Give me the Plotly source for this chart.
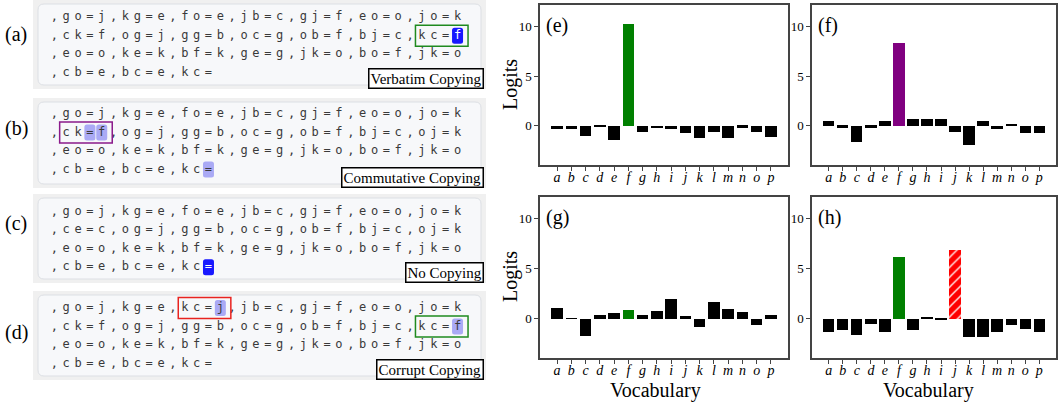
import plotly.graph_objects as go

W, H = 1058, 402

# ---------------- data ----------------
vocab = list("abcdefghijklmnop")
logits_e = [-0.35, -0.35, -1.0, -0.15, -1.4, 10.27, -0.63, -0.23, -0.33, -0.73, -1.2, -0.63, -1.23, -0.17, -0.63, -1.13]
logits_f = [0.5, -0.17, -1.67, -0.17, 0.5, 8.37, 0.67, 0.67, 0.67, -0.63, -1.93, 0.47, -0.33, 0.1, -0.73, -0.73]
logits_g = [1.1, 0.05, -1.7, 0.4, 0.6, 0.9, 0.4, 0.8, 2.0, 0.3, -0.87, 1.7, 1.0, 0.7, -0.6, 0.4]
logits_h = [-1.3, -1.1, -1.6, -0.5, -1.37, 6.2, -1.1, 0.07, -0.17, 6.9, -1.8, -1.8, -1.37, -0.6, -1.0, -1.3]

seq_a = [",go=j,kg=e,fo=e,jb=c,gj=f,eo=o,jo=k",
         ",ck=f,og=j,gg=b,oc=g,ob=f,bj=c,kc=f",
         ",eo=o,ke=k,bf=k,ge=g,jk=o,bo=f,jk=o",
         ",cb=e,bc=e,kc="]
seq_b = [",go=j,kg=e,fo=e,jb=c,gj=f,eo=o,jo=k",
         ",ck=f,og=j,gg=b,oc=g,ob=f,bj=c,oj=k",
         ",eo=o,ke=k,bf=k,ge=g,jk=o,bo=f,jk=o",
         ",cb=e,bc=e,kc="]
seq_c = [",go=j,kg=e,fo=e,jb=c,gj=f,eo=o,jo=k",
         ",ce=c,og=j,gg=b,oc=g,ob=f,bj=c,oj=k",
         ",eo=o,ke=k,bf=k,ge=g,jk=o,bo=f,jk=o",
         ",cb=e,bc=e,kc="]
seq_d = [",go=j,kg=e,kc=j,jb=c,gj=f,eo=o,jo=k",
         ",ck=f,og=j,gg=b,oc=g,ob=f,bj=c,kc=f",
         ",eo=o,ke=k,bf=k,ge=g,jk=o,bo=f,jk=o",
         ",cb=e,bc=e,kc="]
sequences = [seq_a, seq_b, seq_c, seq_d]
captions = ["Verbatim Copying", "Commutative Copying", "No Copying", "Corrupt Copying"]
seq_tags = ["(a)", "(b)", "(c)", "(d)"]
chart_tags = ["(e)", "(f)", "(g)", "(h)"]

# frames: (panel, row, first idx, last idx, colour)
frames = [(0, 1, 31, 34, "#1f8a1f"),
          (1, 1, 1, 4, "#8b1a8b"),
          (3, 0, 11, 14, "#e8231f"),
          (3, 1, 31, 34, "#1f8a1f")]
# highlighted tokens: (panel, row, idx, strong?)
marks = [(0, 1, 34, True),
         (1, 1, 3, False), (1, 1, 4, False), (1, 3, 13, False),
         (2, 3, 13, True),
         (3, 0, 14, False), (3, 1, 34, False)]

# ---------------- layout constants (pixels) ----------------
panel_top = [0, 98, 194, 291]
panel_bot = [89, 188, 283, 380]
row0 = [17.3, 114, 211.7, 308]
row_pitch = 18.5
char_x0 = 54.3
char_pitch = 11.86
tag_y = [34, 128, 223, 332]
STRONG = "#1818ff"
LIGHT = "#aaaaf5"

fig = go.Figure()

def rrect(x0, y0, x1, y1, r):
    return (f"M{x0+r},{y0} L{x1-r},{y0} Q{x1},{y0} {x1},{y0+r} L{x1},{y1-r} "
            f"Q{x1},{y1} {x1-r},{y1} L{x0+r},{y1} Q{x0},{y1} {x0},{y1-r} "
            f"L{x0},{y0+r} Q{x0},{y0} {x0+r},{y0} Z")

shapes = []
annotations = []

def cx(i):
    return char_x0 + i * char_pitch

def ry(p, r):
    return row0[p] + r * row_pitch

strong_set = {(p, r, i) for p, r, i, s in marks if s}

norm_x, norm_y, norm_t = [], [], []
white_x, white_y, white_t = [], [], []
for p, seq in enumerate(sequences):
    shapes.append(dict(type="rect", xref="x5", yref="y5", x0=33, x1=486,
                       y0=panel_top[p], y1=panel_bot[p], fillcolor="#f0f0f0",
                       line=dict(width=0), layer="below"))
    shapes.append(dict(type="path", xref="x5", yref="y5",
                       path=rrect(38, panel_top[p] + 4, 481, panel_bot[p] - 4, 6),
                       fillcolor="#f7f8fa", line=dict(color="#dcdfe4", width=1),
                       layer="below"))
    for r, line in enumerate(seq):
        for i, ch in enumerate(line):
            if (p, r, i) in strong_set:
                white_x.append(cx(i)); white_y.append(ry(p, r)); white_t.append(ch)
            else:
                norm_x.append(cx(i)); norm_y.append(ry(p, r)); norm_t.append(ch)
    annotations.append(dict(xref="x5", yref="y5", x=16, y=tag_y[p], text=seq_tags[p],
                            showarrow=False, font=dict(family="Liberation Serif", size=20, color="black")))
    annotations.append(dict(xref="x5", yref="y5", x=484, y=panel_bot[p], text=captions[p],
                            showarrow=False, xanchor="right", yanchor="bottom",
                            bgcolor="white", bordercolor="black", borderwidth=1.5, borderpad=1,
                            font=dict(family="Liberation Serif", size=15, color="black")))

for p, r, i, s in marks:
    x, y = cx(i), ry(p, r)
    shapes.append(dict(type="path", xref="x5", yref="y5",
                       path=rrect(x - 5.5, y - 8, x + 5.5, y + 8, 2.5),
                       fillcolor=STRONG if s else LIGHT, line=dict(width=0), layer="below"))

for p, r, i0, i1, col in frames:
    y = ry(p, r)
    shapes.append(dict(type="rect", xref="x5", yref="y5",
                       x0=cx(i0) - 6.5, x1=cx(i1) + 10.5, y0=y - 10.5, y1=y + 10.5,
                       line=dict(color=col, width=1.5), fillcolor="rgba(0,0,0,0)"))

fig.add_trace(go.Scatter(x=norm_x, y=norm_y, text=norm_t, mode="text", xaxis="x5", yaxis="y5",
                         textfont=dict(family="DejaVu Sans Mono", size=12, color="#3a3a3a"),
                         hoverinfo="skip", showlegend=False))
fig.add_trace(go.Scatter(x=white_x, y=white_y, text=white_t, mode="text", xaxis="x5", yaxis="y5",
                         textfont=dict(family="DejaVu Sans Mono", size=12, color="white"),
                         hoverinfo="skip", showlegend=False))

# ---------------- bar charts ----------------
chart_data = [logits_e, logits_f, logits_g, logits_h]
chart_colors = [{5: "#008000"}, {5: "#800080"}, {5: "#008000"}, {5: "#008000", 9: "#ff0000"}]
hatched = [None, None, None, 9]
xdom = [(540, 788), (812, 1056), (540, 788), (812, 1056)]
ydom = [(5, 165), (5, 165), (197, 358), (197, 358)]
positions = list(range(len(vocab)))

for k, vals in enumerate(chart_data):
    cols = [chart_colors[k].get(i, "black") for i in positions]
    shapes_pat = ["/" if hatched[k] == i else "" for i in positions]
    ax = "" if k == 0 else str(k + 1)
    fig.add_trace(go.Bar(x=positions, y=vals, width=0.8, xaxis="x" + ax, yaxis="y" + ax,
                         marker=dict(color=cols, line=dict(width=0),
                                     pattern=dict(shape=shapes_pat, fillmode="overlay",
                                                  fgcolor="black", fgopacity=1, size=7, solidity=0.18)),
                         hoverinfo="skip", showlegend=False))
    axis_common = dict(showline=True, mirror=True, linecolor="#444444", linewidth=1.5,
                       ticks="outside", ticklen=4, tickwidth=1.2, tickcolor="#444444",
                       showgrid=False, zeroline=False)
    fig.layout["xaxis" + ax] = dict(axis_common, domain=[xdom[k][0] / W, xdom[k][1] / W],
                                    range=[-1.2, 16.2], tickvals=positions, ticktext=vocab,
                                    tickfont=dict(family="Liberation Serif", size=14, style="italic",
                                                  color="black"),
                                    ticklabelstandoff=-6,
                                    anchor="y" + ax)
    fig.layout["yaxis" + ax] = dict(axis_common, domain=[1 - ydom[k][1] / H, 1 - ydom[k][0] / H],
                                    range=[-3.95, 12.2], tickvals=[0, 5, 10],
                                    tickfont=dict(family="Liberation Serif", size=13, color="black"),
                                    anchor="x" + ax)
    annotations.append(dict(xref="x5", yref="y5", x=xdom[k][0] + 4, y=ydom[k][0] + 20,
                            text=chart_tags[k], showarrow=False, xanchor="left",
                            font=dict(family="Liberation Serif", size=20, color="black")))

for yc in (85, 277):
    annotations.append(dict(xref="x5", yref="y5", x=510, y=yc, text="Logits", textangle=-90,
                            showarrow=False, font=dict(family="Liberation Serif", size=20, color="black")))
for xc in (655, 928):
    annotations.append(dict(xref="x5", yref="y5", x=xc, y=390, text="Vocabulary",
                            showarrow=False, font=dict(family="Liberation Serif", size=20, color="black")))

fig.update_layout(
    width=W, height=H, margin=dict(l=0, r=0, t=0, b=0),
    paper_bgcolor="white", plot_bgcolor="rgba(0,0,0,0)",
    xaxis5=dict(domain=[0, 1], range=[0, W], visible=False, anchor="y5"),
    yaxis5=dict(domain=[0, 1], range=[H, 0], visible=False, anchor="x5"),
    shapes=shapes, annotations=annotations, bargap=0, showlegend=False,
)

fig.write_html("out.html", config={"displayModeBar": False},
               post_script="document.body.style.margin='0';document.body.style.overflow='hidden';")
